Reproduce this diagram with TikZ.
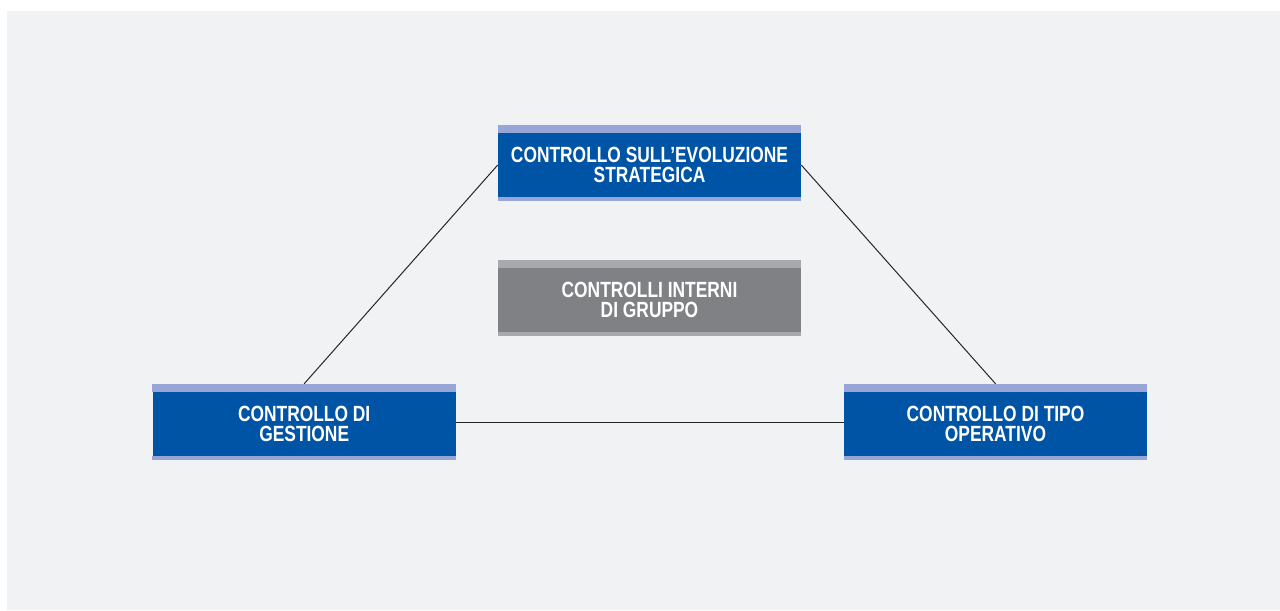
\documentclass[tikz,border=0pt]{standalone}
\usepackage{fontspec}
\setmainfont{Liberation Sans}[FakeStretch=0.79]
\definecolor{bg}{HTML}{F1F2F4}
\definecolor{boxblue}{HTML}{0054A6}
\definecolor{bandblue}{HTML}{97A6D6}
\definecolor{boxgray}{HTML}{808184}
\definecolor{bandgray}{HTML}{A7A9AC}
\tikzset{
  box/.style={rectangle, inner sep=0pt, minimum width=227.25pt, minimum height=48pt,
    align=center, text=white, font=\fontsize{16.5}{15}\selectfont\bfseries},
  conn/.style={draw=black!85, line width=0.75pt}
}
\newcommand\triBox[5]{%
  \node[box, fill=#4] (#1) at (#2) {#3};
  \fill[#5] (#1.north west) rectangle ([yshift=6pt]#1.north east);
  \fill[#5] (#1.south west) rectangle ([yshift=-3pt]#1.south east);
  \coordinate (#1top) at ([yshift=6pt]#1.north);
}
\begin{document}
\begin{tikzpicture}[x=0.75pt,y=-0.75pt]
\useasboundingbox (0,0) rectangle (1280,610);
\fill[white] (0,0) rectangle (1280,610);
\fill[bg] (7,11) rectangle (1280,610);
\triBox{strat}{649.5,165}{CONTROLLO SULL'EVOLUZIONE\\STRATEGICA}{boxblue}{bandblue}
\triBox{grp}{649.5,300}{CONTROLLI INTERNI\\DI GRUPPO}{boxgray}{bandgray}
\triBox{gest}{304.2,424}{CONTROLLO DI\\GESTIONE}{boxblue}{bandblue}
\triBox{oper}{995.5,424}{CONTROLLO DI TIPO\\OPERATIVO}{boxblue}{bandblue}
\draw[conn] (strat.west) -- (gesttop);
\draw[conn] (strat.east) -- (opertop);
\draw[conn] ([yshift=1.5pt]gest.east) -- ([yshift=1.5pt]oper.west);
\end{tikzpicture}
\end{document}
